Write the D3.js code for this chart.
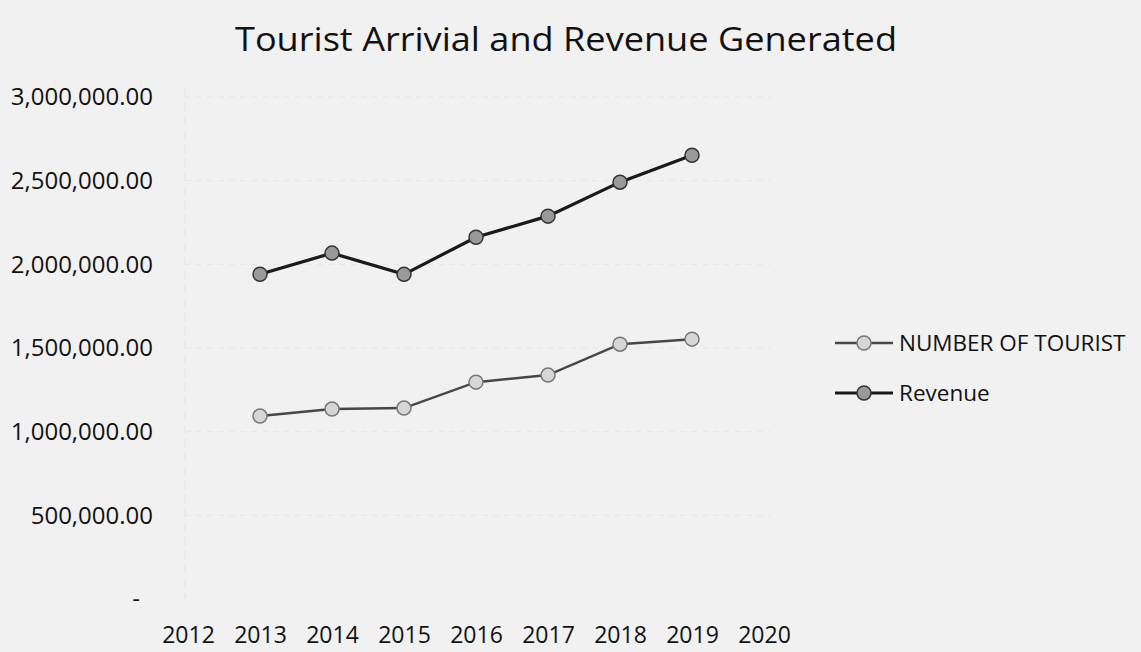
<!DOCTYPE html>
<html>
<head>
<meta charset="utf-8">
<script src="https://cdn.jsdelivr.net/npm/d3@7"></script>
<style>
  html, body { margin: 0; padding: 0; background: #f1f1f1; }
  svg { display: block; }
  text { font-family: "Open Sans", sans-serif; fill: #111; }
</style>
</head>
<body>
<svg id="chart" width="1141" height="652"></svg>
<script>
const years = [2013, 2014, 2015, 2016, 2017, 2018, 2019];
const axisYears = [2012, 2013, 2014, 2015, 2016, 2017, 2018, 2019, 2020];
const tourists = [1093000, 1135000, 1141000, 1296000, 1338000, 1523000, 1553000];
const revenue = [1941000, 2067000, 1940000, 2162000, 2288000, 2491000, 2652000];
const yTicks = [0, 500000, 1000000, 1500000, 2000000, 2500000, 3000000];
const seriesNames = ["NUMBER OF TOURIST", "Revenue"];
const title = "Tourist Arrivial and Revenue Generated";

const svg = d3.select("#chart");

const x = d3.scaleLinear().domain([2012, 2020]).range([188, 764]);
const y = d3.scaleLinear().domain([0, 3000000]).range([599, 97]);

// title
svg.append("text")
  .attr("x", 566).attr("y", 51)
  .attr("text-anchor", "middle")
  .attr("font-size", 33)
  .attr("textLength", 662)
  .attr("lengthAdjust", "spacingAndGlyphs")
  .text(title);

// faint gridlines
svg.append("g").selectAll("line")
  .data(yTicks.filter(d => d > 0))
  .join("line")
  .attr("x1", 185).attr("x2", 770)
  .attr("y1", d => y(d)).attr("y2", d => y(d))
  .attr("stroke", "#e6e6e6").attr("stroke-width", 1)
  .attr("stroke-dasharray", "6,5");

// faint vertical axis line
svg.append("line")
  .attr("x1", 185).attr("x2", 185)
  .attr("y1", y(3000000) - 8).attr("y2", y(0))
  .attr("stroke", "#e2e2e2").attr("stroke-width", 1)
  .attr("stroke-dasharray", "8,6");

// y axis labels
const fmt = d => d === 0 ? "-" : d3.format(",.2f")(d);
const yAxis = d3.axisLeft(y).tickValues(yTicks).tickFormat(fmt).tickSize(0).tickPadding(0);
const yg = svg.append("g").attr("transform", "translate(153,0)").call(yAxis);
yg.select(".domain").remove();
yg.selectAll("text").attr("font-size", 24).attr("fill", "#111")
  .attr("font-family", "'Open Sans', sans-serif");
yg.selectAll(".tick").filter(d => d === 0).select("text").attr("dx", -13);

// x axis labels
const xAxis = d3.axisBottom(x).tickValues(axisYears).tickFormat(d3.format("d")).tickSize(0).tickPadding(0);
const xg = svg.append("g").attr("transform", "translate(0,627)").call(xAxis);
xg.select(".domain").remove();
xg.selectAll("text").attr("font-size", 23).attr("fill", "#111")
  .attr("font-family", "'Open Sans', sans-serif");

const line = d3.line().x((d, i) => x(years[i])).y(d => y(d));

const styles = [
  { line: "#474747", lw: 2.5, fill: "#d6d6d6", stroke: "#777" },
  { line: "#1a1a1a", lw: 3.2, fill: "#9a9a9a", stroke: "#333" }
];
const data = [tourists, revenue];

data.forEach((s, k) => {
  const st = styles[k];
  svg.append("path").datum(s)
    .attr("d", line)
    .attr("fill", "none")
    .attr("stroke", st.line)
    .attr("stroke-width", st.lw);
  svg.append("g").selectAll("circle").data(s).join("circle")
    .attr("cx", (d, i) => x(years[i]))
    .attr("cy", d => y(d))
    .attr("r", 7)
    .attr("fill", st.fill)
    .attr("stroke", st.stroke)
    .attr("stroke-width", 1.5);
});

// legend
const legend = svg.append("g");
seriesNames.forEach((name, k) => {
  const st = styles[k];
  const ly = 343 + k * 50;
  legend.append("line")
    .attr("x1", 835).attr("x2", 893).attr("y1", ly).attr("y2", ly)
    .attr("stroke", st.line).attr("stroke-width", st.lw);
  legend.append("circle")
    .attr("cx", 864).attr("cy", ly).attr("r", 7)
    .attr("fill", st.fill).attr("stroke", st.stroke).attr("stroke-width", 1.5);
  legend.append("text")
    .attr("x", 899).attr("y", ly).attr("dy", "0.35em")
    .attr("font-size", 22.5)
    .text(name);
});
</script>
</body>
</html>
